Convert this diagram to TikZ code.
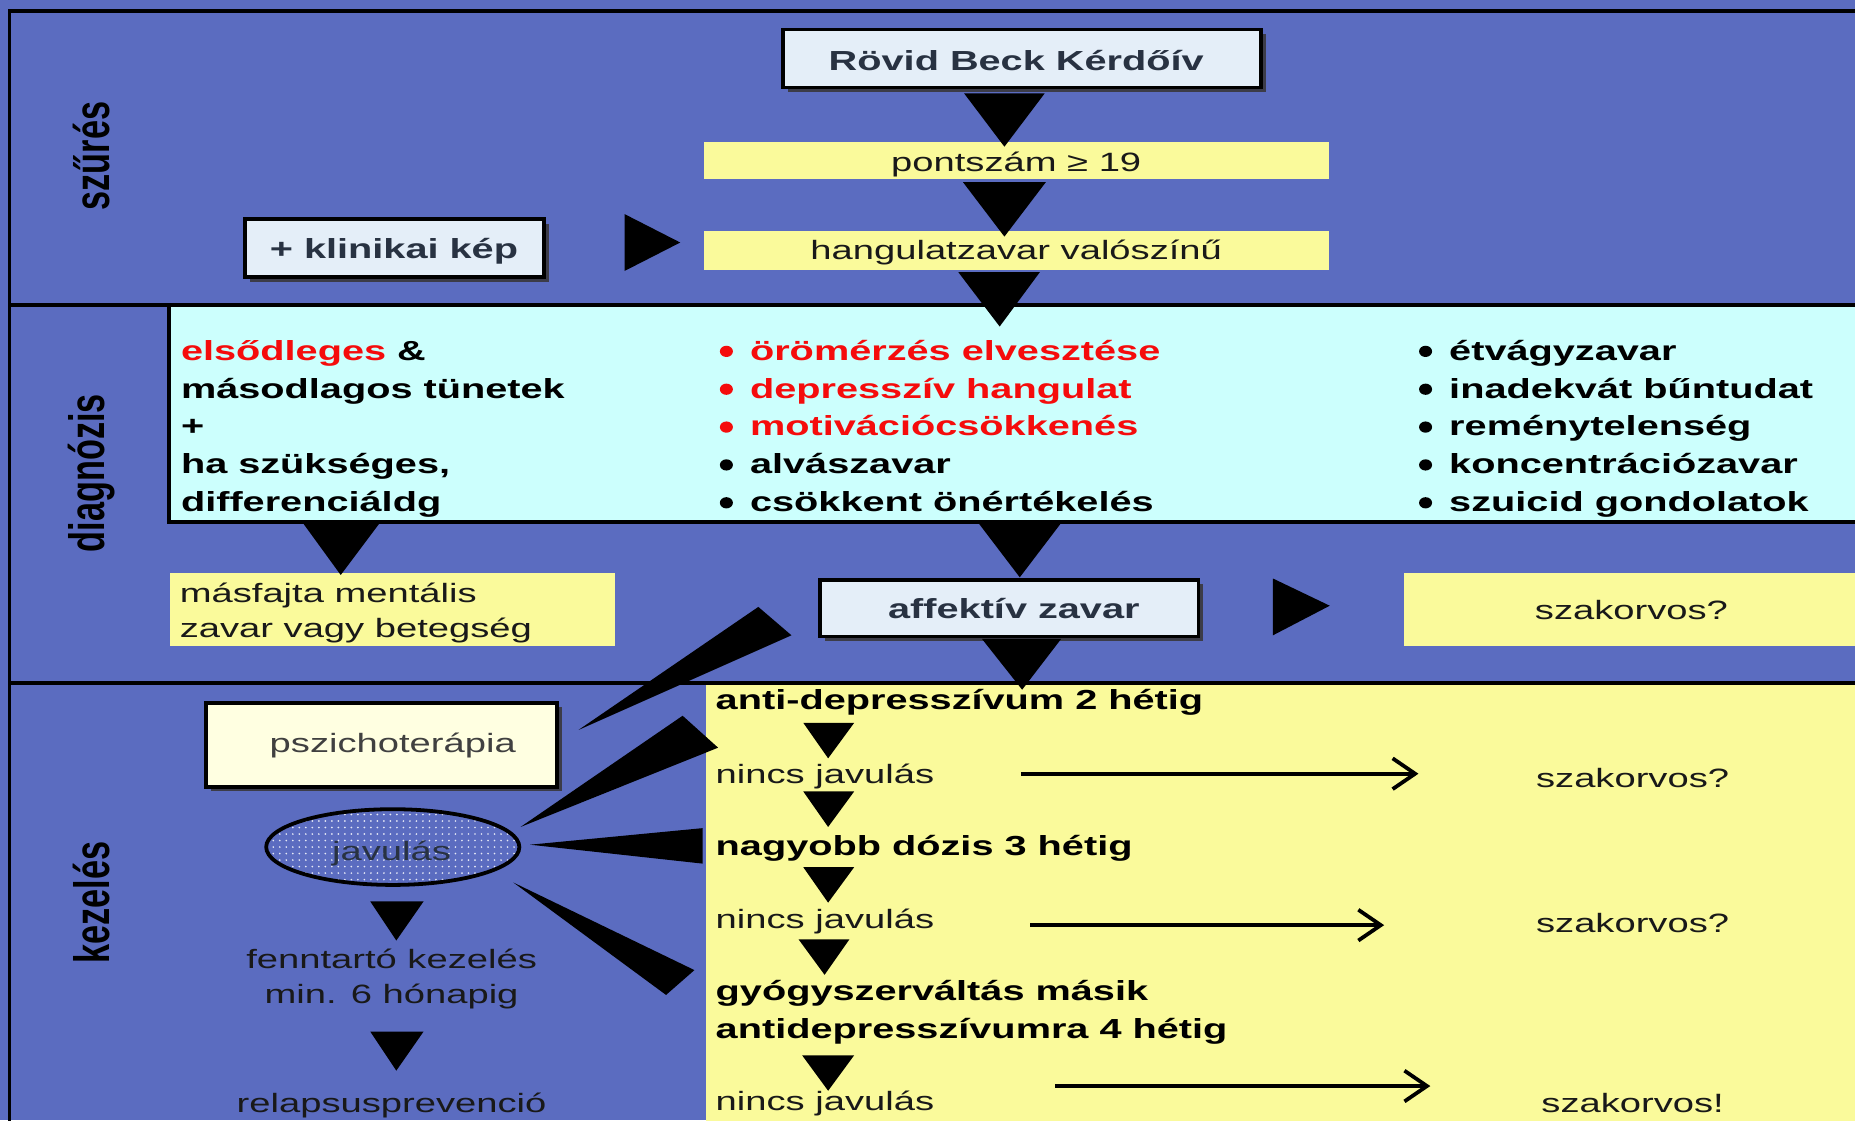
\documentclass[tikz,border=0pt]{standalone}
\usepackage{fontspec}
\setmainfont{Liberation Sans}[FakeStretch=1.44]
\newfontfamily\rotfont{Liberation Sans}[FakeStretch=0.69]
\usetikzlibrary{arrows.meta,patterns.meta,shapes.geometric}
\definecolor{bg}{RGB}{91,108,192}
\definecolor{ylw}{RGB}{250,250,155}
\definecolor{cyn}{RGB}{204,255,253}
\definecolor{boxf}{RGB}{228,238,248}
\definecolor{cream}{RGB}{255,255,225}
\definecolor{txt}{RGB}{25,25,25}
\definecolor{slate}{RGB}{40,50,66}
\definecolor{redt}{RGB}{245,12,12}
\definecolor{shad}{RGB}{60,60,72}
\newcommand\nf{\fontsize{22.4bp}{30bp}\selectfont}
\newcommand\bfz{\fontsize{23.3bp}{32bp}\selectfont\bfseries}
\newcommand\rotf{\rotfont\fontsize{42bp}{42bp}\selectfont\bfseries}
\tikzset{
  every node/.style={inner sep=0pt, outer sep=0pt},
  tri/.style={fill=black, draw=none},
  lab/.style={font=\nf, text=txt},
  blab/.style={font=\bfz, text=black},
  slab/.style={font=\bfz, text=slate},
  sec/.style={font=\rotf, text=black, rotate=90},
  border/.style={line width=3.2bp, draw=black},
  ybox/.style={fill=ylw, draw=none},
  sbox/.style={draw=black, line width=3.2bp, fill=boxf},
  shadowbox/.style={fill=shad, draw=none},
  bulletdot/.style={ellipse, draw=none, minimum width=11bp, minimum height=9.5bp},
  harrow/.style={line width=3.2bp, draw=black, -{Straight Barb[length=19bp, width=26bp, line width=3.2bp]}},
}
\begin{document}
\begin{tikzpicture}[x=1bp, y=-1bp]
\useasboundingbox (0,0) rectangle (1568,947);
% background
\fill[bg] (0,0) rectangle (1568,947);
% treatment yellow area
\fill[ylw] (597,577) rectangle (1575,952);
% diagnosis cyan box
\draw[border, fill=cyn] (143,258) rectangle (1580,441);
% frame lines
\draw[border] (1580,9) -- (8,9) -- (8,955);
\draw[border] (8,258) -- (1580,258);
\draw[border] (8,577) -- (1580,577);

% section labels
\node[sec] (lszures) at (77,132) {szűrés};
\node[sec] (ldiag) at (77,400) {diagnózis};
\node[sec] (lkezeles) at (77,763) {kezelés};

% ---------- screening band ----------
\fill[shadowbox] (666,29) rectangle (1070,78);
\node[sbox, minimum width=404bp, minimum height=49bp] (beck) at (864,49.5) {};
\node[slab, anchor=base] (tbeck) at (859,60) {Rövid Beck Kérdőív};

\node[ybox, minimum width=528bp, minimum height=31bp] (pont) at (859,135.5) {};
\node[lab, anchor=base] (tpont) at (859,145) {pontszám ≥ 19};

\node[ybox, minimum width=528bp, minimum height=33bp] (hang) at (859,211.5) {};
\node[lab, anchor=base] (thang) at (859,219.5) {hangulatzavar valószínű};

\fill[shadowbox] (211,189) rectangle (464,238);
\node[sbox, minimum width=253bp, minimum height=49bp] (klin) at (333.5,209.5) {};
\node[slab, anchor=base] (tklin) at (333,218.5) {+ klinikai kép};

\fill[tri] (815,79) -- (883,79) -- (849,124) -- cycle;
\fill[tri] (814,154) -- (884,154) -- (849,200) -- cycle;
\fill[tri] (810,230) -- (879,230) -- (845,276) -- cycle;
\fill[tri] (528,181) -- (528,229) -- (575,205) -- cycle;

% ---------- diagnosis band ----------
\node[blab, anchor=base west] (d1) at (153,304.5) {\textcolor{redt}{elsődleges} \&};
\node[blab, anchor=base west] (d2) at (153,336.5) {másodlagos tünetek};
\node[blab, anchor=base west] (d3) at (153,368.5) {+};
\node[blab, anchor=base west] (d4) at (153,400.5) {ha szükséges,};
\node[blab, anchor=base west] (d5) at (153,432.5) {differenciáldg};

\foreach \y/\t/\c [count=\i] in {304.5/örömérzés elvesztése/redt, 336.5/depresszív hangulat/redt, 368.5/motivációcsökkenés/redt, 400.5/alvászavar/black, 432.5/csökkent önértékelés/black}{
  \node[bulletdot, fill=\c] (mb\i) at (614,\y-7.5) {};
  \node[blab, text=\c, anchor=base west] (m\i) at (634,\y) {\t};
}
\foreach \y/\t [count=\i] in {304.5/étvágyzavar, 336.5/inadekvát bűntudat, 368.5/reménytelenség, 400.5/koncentrációzavar, 432.5/szuicid gondolatok}{
  \node[bulletdot, fill=black] (rb\i) at (1205,\y-7.5) {};
  \node[blab, anchor=base west] (r\i) at (1225,\y) {\t};
}

\node[ybox, minimum width=376bp, minimum height=62bp] (masf) at (332,515) {};
\node[lab, anchor=base west] (tmasf1) at (152,509.5) {másfajta mentális};
\node[lab, anchor=base west] (tmasf2) at (152,539) {zavar vagy betegség};

\fill[shadowbox] (697,494) rectangle (1017,542);
\node[sbox, minimum width=320bp, minimum height=48bp] (aff) at (853,514) {};
\node[slab, anchor=base] (taff) at (857,522.5) {affektív zavar};

\node[ybox, minimum width=390bp, minimum height=62bp] (szak0) at (1382,515) {};
\node[lab, anchor=base] (tszak0) at (1379,524) {szakorvos?};

\fill[tri] (256,442) -- (321,442) -- (288,486) -- cycle;
\fill[tri] (827,442) -- (897,442) -- (862,488) -- cycle;
\fill[tri] (1076,489) -- (1076,537) -- (1124,512) -- cycle;
\fill[tri] (830,540) -- (897,540) -- (864,583) -- cycle;
\fill[tri] (641,513) -- (669,537) -- (489,617) -- cycle;

% ---------- treatment band ----------
\fill[shadowbox] (178,598) rectangle (475,669);
\node[draw=black, line width=3.2bp, fill=cream, minimum width=297bp, minimum height=71bp] (psz) at (322.5,629.5) {};
\node[lab, text=black!75, anchor=base] (tpsz) at (332,636.4) {pszichoterápia};

\node[ellipse, draw=black, line width=3.2bp, minimum width=214bp, minimum height=64bp,
      preaction={fill=bg}, pattern={Dots[distance=5.5bp, radius=0.8bp]}, pattern color=white!85!bg] (jav) at (332,716) {};
\node[lab, text=slate, anchor=base] (tjav) at (331,727) {javulás};

\fill[tri] (440,699) -- (577,605) -- (607,632) -- cycle;
\fill[tri] (448,714) -- (594,700) -- (594,730) -- cycle;
\fill[tri] (434,746) -- (587,820) -- (563,841) -- cycle;
\fill[tri] (313,762) -- (358,762) -- (335,795) -- cycle;
\fill[tri] (313,872) -- (358,872) -- (335,905) -- cycle;

\node[lab, anchor=base] (tfenn1) at (331,818.8) {fenntartó kezelés};
\node[lab, anchor=base] (tfenn2) at (331,848.5) {min. 6 hónapig};
\node[lab, anchor=base] (trel) at (331,940) {relapsusprevenció};

\node[blab, anchor=base west] (k1) at (605,600) {anti-depresszívum 2 hétig};
\node[lab, anchor=base west] (k2) at (605,662) {nincs javulás};
\node[blab, anchor=base west] (k3) at (605,723) {nagyobb dózis 3 hétig};
\node[lab, anchor=base west] (k4) at (605,785) {nincs javulás};
\node[blab, anchor=base west] (k5) at (605,845.6) {gyógyszerváltás másik};
\node[blab, anchor=base west] (k6) at (605,878) {antidepresszívumra 4 hétig};
\node[lab, anchor=base west] (k7) at (605,938.6) {nincs javulás};

\fill[tri] (679,611) -- (722,611) -- (700,641) -- cycle;
\fill[tri] (679,669) -- (722,669) -- (700,699) -- cycle;
\fill[tri] (679,733) -- (722,733) -- (700,763) -- cycle;
\fill[tri] (675,794) -- (718,794) -- (697,824) -- cycle;
\fill[tri] (678,892) -- (722,892) -- (700,922) -- cycle;

\node[lab, anchor=base] (sz1) at (1380,666) {szakorvos?};
\node[lab, anchor=base] (sz2) at (1380,788.5) {szakorvos?};
\node[lab, anchor=base] (sz3) at (1380,940) {szakorvos!};

\coordinate (a1s) at (863,654);
\coordinate (a1e) at (1199,654);
\coordinate (a2s) at (871,782);
\coordinate (a2e) at (1170,782);
\coordinate (a3s) at (892,918);
\coordinate (a3e) at (1209,918);
\draw[harrow] (a1s) -- (a1e);
\draw[harrow] (a2s) -- (a2e);
\draw[harrow] (a3s) -- (a3e);
\end{tikzpicture}
\end{document}
